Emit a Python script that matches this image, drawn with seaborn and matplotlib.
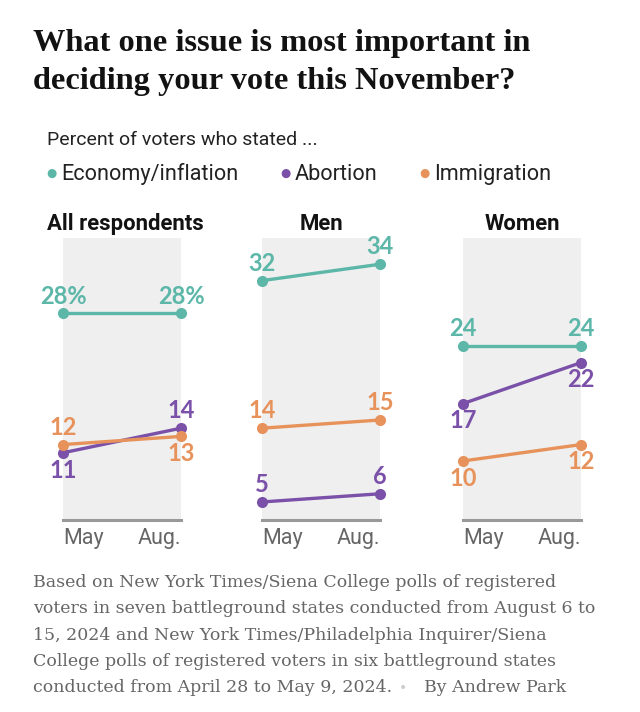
import pandas as pd
import matplotlib.pyplot as plt
import seaborn as sns

# --- DATOS ---
months = ['May', 'Aug.']
issues = ['Economy/inflation', 'Abortion', 'Immigration']
groups = ['All respondents', 'Men', 'Women']

economy = {'All respondents': [28, 28], 'Men': [32, 34], 'Women': [24, 24]}
abortion = {'All respondents': [11, 14], 'Men': [5, 6], 'Women': [17, 22]}
immigration = {'All respondents': [12, 13], 'Men': [14, 15], 'Women': [10, 12]}

colors = {'Economy/inflation': '#5cb7a9', 'Abortion': '#7a50a8', 'Immigration': '#e8925b'}

# label placement: +1 above point, -1 below point (per group, issue, month)
label_side = {
    'All respondents': {'Economy/inflation': [1, 1], 'Abortion': [-1, 1], 'Immigration': [1, -1]},
    'Men': {'Economy/inflation': [1, 1], 'Abortion': [1, 1], 'Immigration': [1, 1]},
    'Women': {'Economy/inflation': [1, 1], 'Abortion': [-1, -1], 'Immigration': [-1, -1]},
}

rows = []
for g in groups:
    for issue, vals in zip(issues, [economy, abortion, immigration]):
        for i, m in enumerate(months):
            rows.append({'group': g, 'issue': issue, 'x': i, 'month': m, 'value': vals[g][i]})
df = pd.DataFrame(rows)

W, H = 640, 712
fig = plt.figure(figsize=(W / 100, H / 100), dpi=100)
sns.set_style('white')

def fx(x):
    return x / W

def fy(y):
    return 1 - y / H

# --- TEXTOS ---
fig.text(fx(33), fy(51), 'What one issue is most important in', fontsize=23.3,
         family='Liberation Serif', weight='bold', color='#121212', va='baseline')
fig.text(fx(33), fy(89), 'deciding your vote this November?', fontsize=23.3,
         family='Liberation Serif', weight='bold', color='#121212', va='baseline')
fig.text(fx(47), fy(145), 'Percent of voters who stated ...', fontsize=14,
         family='Roboto', color='#222222', va='baseline')

legend_x = [51, 285, 424]
for lx, issue in zip(legend_x, issues):
    fig.text(fx(lx), fy(173), '\u25CF', fontsize=8.5, color=colors[issue], va='center',
             ha='center', family='DejaVu Sans')
    fig.text(fx(lx + 10), fy(180), issue, fontsize=15.6, family='Roboto',
             color='#222222', va='baseline')

band_left = [63, 262, 463]
band_w = 118
top_px, bot_px = 238, 520
ylo, yhi = 2.8, 37.2

for g, left in zip(groups, band_left):
    ax = fig.add_axes([fx(left), fy(bot_px), band_w / W, (bot_px - top_px) / H])
    ax.set_facecolor('#eeefee')
    sub = df[df['group'] == g]
    sns.lineplot(data=sub, x='x', y='value', hue='issue', palette=colors,
                 hue_order=issues, marker='o', markersize=8, markeredgewidth=0,
                 linewidth=2.4, legend=False, ax=ax)
    for line in ax.lines:
        line.set_clip_on(False)
    ax.set_xlim(0, 1)
    ax.set_ylim(ylo, yhi)
    ax.set_yticks([])
    ax.set_xticks([0, 1])
    ax.set_xticklabels(months)
    ax.tick_params(axis='x', length=0, pad=6, labelsize=15.5, labelcolor='#666666')
    for lab in ax.get_xticklabels():
        lab.set_family('Roboto')
    ax.get_xticklabels()[0].set_ha('left')
    ax.get_xticklabels()[1].set_ha('right')
    ax.set_xlabel('')
    ax.set_ylabel('')
    for s in ['top', 'left', 'right']:
        ax.spines[s].set_visible(False)
    ax.spines['bottom'].set_color('#999999')
    ax.spines['bottom'].set_linewidth(2.2)

    for issue in issues:
        r = sub[sub['issue'] == issue].sort_values('x')
        for i, (xv, v) in enumerate(zip(r['x'], r['value'])):
            side = label_side[g][issue][i]
            txt = f'{v}%' if g == 'All respondents' and issue == 'Economy/inflation' else str(v)
            ax.annotate(txt, (xv, v), xytext=(0, 12.5 * side), textcoords='offset points',
                        ha='center', va='center', fontsize=17, weight='bold',
                        family='Lato', color=colors[issue], annotation_clip=False)

    fig.text(fx(left + band_w / 2 + (3 if g == 'All respondents' else 0)), fy(230), g,
             fontsize=15.9, weight='bold', family='Roboto', color='#121212',
             ha='center', va='baseline')

foot = ['Based on New York Times/Siena College polls of registered',
        'voters in seven battleground states conducted from August 6 to',
        '15, 2024 and New York Times/Philadelphia Inquirer/Siena',
        'College polls of registered voters in six battleground states',
        'conducted from April 28 to May 9, 2024.']
for i, line in enumerate(foot):
    fig.text(fx(33), fy(587 + 26.3 * i), line, fontsize=12.55, family='DejaVu Serif',
             color='#666666', va='baseline')
fig.text(fx(403), fy(692), '\u2022', fontsize=10, color='#cccccc', va='baseline',
         ha='center')
fig.text(fx(424), fy(692), 'By Andrew Park', fontsize=12.55, family='DejaVu Serif',
         color='#666666', va='baseline')

fig.savefig('out.png', dpi=100, facecolor='white')
